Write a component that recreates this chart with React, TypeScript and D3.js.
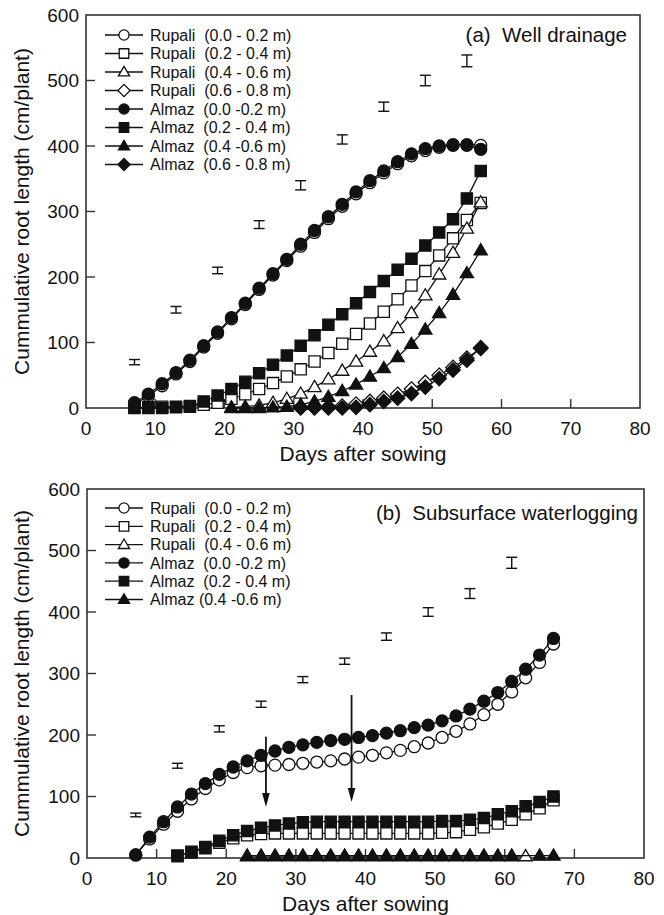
import React from 'react';
import * as d3 from 'd3';

// ---------- Panel (a): Well drainage ----------
const DAYS_A = [7, 9, 11, 13, 15, 17, 19, 21, 23, 25, 27, 29, 31, 33, 35, 37, 39, 41, 43, 45, 47, 49, 51, 53, 55, 57];
const DAYS_A_TRI = [21, 23, 25, 27, 29, 31, 33, 35, 37, 39, 41, 43, 45, 47, 49, 51, 53, 55, 57];
const DAYS_A_DIA = [31, 33, 35, 37, 39, 41, 43, 45, 47, 49, 51, 53, 55, 57];

const A_RUPALI_00_02 = [6, 18, 34, 52, 71, 93, 114, 136, 158, 181, 203, 225, 247, 268, 289, 308, 327, 344, 359, 373, 385, 393, 398, 401, 402, 401];
const A_RUPALI_02_04 = [1, 1, 2, 2, 3, 5, 8, 14, 21, 29, 38, 48, 59, 71, 84, 98, 113, 129, 147, 166, 187, 209, 233, 259, 287, 313];
const A_RUPALI_04_06 = [1, 2, 4, 8, 14, 22, 32, 44, 57, 71, 86, 102, 122, 145, 172, 204, 237, 274, 314];
const A_RUPALI_06_08 = [1, 1, 2, 3, 6, 10, 15, 21, 29, 39, 50, 62, 76, 91];
const A_ALMAZ_00_02 = [8, 21, 37, 54, 73, 95, 116, 138, 160, 183, 205, 227, 250, 271, 292, 311, 330, 347, 362, 376, 388, 396, 400, 402, 401, 395];
const A_ALMAZ_02_04 = [0, 0, 0, 1, 2, 10, 19, 29, 40, 53, 66, 80, 95, 111, 127, 143, 160, 177, 194, 211, 228, 248, 268, 288, 320, 362];
const A_ALMAZ_04_06 = [0, 0, 0, 1, 2, 5, 10, 17, 26, 36, 48, 61, 78, 98, 120, 145, 173, 206, 241];
const A_ALMAZ_06_08 = [0, 0, 0, 0, 1, 5, 10, 15, 22, 32, 45, 58, 73, 92];

const A_ERR_DAYS = [7, 13, 19, 25, 31, 37, 43, 49, 55];
const A_ERR_VALUES = [70, 150, 210, 280, 340, 410, 460, 500, 530];
const A_ERR_SIZE = [4, 5, 5, 6, 7, 7, 7, 8, 9];

// ---------- Panel (b): Subsurface waterlogging ----------
const DAYS_B = [7, 9, 11, 13, 15, 17, 19, 21, 23, 25, 27, 29, 31, 33, 35, 37, 39, 41, 43, 45, 47, 49, 51, 53, 55, 57, 59, 61, 63, 65, 67];
const DAYS_B_SQ = [13, 15, 17, 19, 21, 23, 25, 27, 29, 31, 33, 35, 37, 39, 41, 43, 45, 47, 49, 51, 53, 55, 57, 59, 61, 63, 65, 67];
const DAYS_B_TRI_R = [23, 25, 27, 29, 31, 33, 35, 37, 39, 41, 43, 45, 47, 49, 51, 53, 55, 57, 59, 61, 63];
const DAYS_B_TRI_A = [23, 25, 27, 29, 31, 33, 35, 37, 39, 41, 43, 45, 47, 49, 51, 53, 55, 57, 59, 61, 65, 67];

const B_RUPALI_00_02 = [5, 31, 55, 76, 96, 113, 127, 139, 147, 150, 151, 152, 154, 156, 158, 161, 164, 167, 171, 175, 181, 187, 196, 206, 218, 233, 250, 270, 293, 318, 348];
const B_RUPALI_02_04 = [3, 9, 16, 25, 32, 37, 39, 40, 40, 40, 40, 40, 40, 40, 40, 40, 40, 40, 40, 41, 42, 46, 50, 56, 62, 71, 81, 94];
const B_RUPALI_04_06 = [3, 3, 3, 3, 3, 3, 3, 3, 3, 3, 3, 3, 3, 3, 3, 3, 3, 3, 3, 3, 3];
const B_ALMAZ_00_02 = [5, 34, 59, 83, 104, 121, 136, 148, 158, 167, 174, 180, 184, 188, 191, 193, 196, 199, 203, 207, 212, 216, 223, 231, 242, 255, 269, 287, 307, 330, 357];
const B_ALMAZ_02_04 = [4, 10, 18, 28, 37, 44, 49, 53, 56, 58, 59, 59, 59, 59, 59, 59, 59, 59, 59, 60, 60, 62, 65, 71, 76, 84, 91, 100];
const B_ALMAZ_04_06 = [4, 4, 4, 4, 4, 4, 4, 4, 4, 4, 4, 4, 4, 4, 4, 4, 4, 4, 4, 4, 4, 4];

const B_ERR_DAYS = [7, 13, 19, 25, 31, 37, 43, 49, 55, 61];
const B_ERR_VALUES = [70, 150, 210, 250, 290, 320, 360, 400, 430, 480];
const B_ERR_SIZE = [3, 4, 5, 5, 5, 5, 6, 7, 8, 9];

// arrows: [day, from value, to value]
const B_ARROW_DAYS = [25.7, 38];
const B_ARROW_FROM = [197, 265];
const B_ARROW_TO = [83, 91];

const X_TICKS = [0, 10, 20, 30, 40, 50, 60, 70, 80];
const Y_TICKS = [0, 100, 200, 300, 400, 500, 600];

const LEGEND_A = [
  'Rupali  (0.0 - 0.2 m)',
  'Rupali  (0.2 - 0.4 m)',
  'Rupali  (0.4 - 0.6 m)',
  'Rupali  (0.6 - 0.8 m)',
  'Almaz  (0.0 -0.2 m)',
  'Almaz  (0.2 - 0.4 m)',
  'Almaz  (0.4 -0.6 m)',
  'Almaz  (0.6 - 0.8 m)',
];
const LEGEND_B = [
  'Rupali  (0.0 - 0.2 m)',
  'Rupali  (0.2 - 0.4 m)',
  'Rupali  (0.4 - 0.6 m)',
  'Almaz  (0.0 -0.2 m)',
  'Almaz  (0.2 - 0.4 m)',
  'Almaz (0.4 -0.6 m)',
];

type Shape = 'circle' | 'square' | 'triangle' | 'diamond';
interface Series { days: number[]; values: number[]; shape: Shape; filled: boolean; }

const SERIES_A: Series[] = [
  { days: DAYS_A, values: A_RUPALI_00_02, shape: 'circle', filled: false },
  { days: DAYS_A, values: A_RUPALI_02_04, shape: 'square', filled: false },
  { days: DAYS_A_TRI, values: A_RUPALI_04_06, shape: 'triangle', filled: false },
  { days: DAYS_A_DIA, values: A_RUPALI_06_08, shape: 'diamond', filled: false },
  { days: DAYS_A, values: A_ALMAZ_00_02, shape: 'circle', filled: true },
  { days: DAYS_A, values: A_ALMAZ_02_04, shape: 'square', filled: true },
  { days: DAYS_A_TRI, values: A_ALMAZ_04_06, shape: 'triangle', filled: true },
  { days: DAYS_A_DIA, values: A_ALMAZ_06_08, shape: 'diamond', filled: true },
];
const SERIES_B: Series[] = [
  { days: DAYS_B, values: B_RUPALI_00_02, shape: 'circle', filled: false },
  { days: DAYS_B_SQ, values: B_RUPALI_02_04, shape: 'square', filled: false },
  { days: DAYS_B_TRI_R, values: B_RUPALI_04_06, shape: 'triangle', filled: false },
  { days: DAYS_B, values: B_ALMAZ_00_02, shape: 'circle', filled: true },
  { days: DAYS_B_SQ, values: B_ALMAZ_02_04, shape: 'square', filled: true },
  { days: DAYS_B_TRI_A, values: B_ALMAZ_04_06, shape: 'triangle', filled: true },
];

const FONT = 'Arial, "Liberation Sans", Helvetica, sans-serif';
const INK = '#111';

function markerPath(shape: Shape, k = 1): string {
  switch (shape) {
    case 'circle': {
      const r = 6 * k;
      return `M${-r},0A${r},${r} 0 1,0 ${r},0A${r},${r} 0 1,0 ${-r},0Z`;
    }
    case 'square': {
      const h = 5.6 * k;
      return `M${-h},${-h}H${h}V${h}H${-h}Z`;
    }
    case 'triangle': {
      const w = 6.6 * k;
      return `M0,${-6.6 * k}L${w},${4.6 * k}L${-w},${4.6 * k}Z`;
    }
    case 'diamond': {
      const d = 7.2 * k;
      return `M0,${-d}L${d},0L0,${d}L${-d},0Z`;
    }
  }
}

interface PanelProps {
  x0: number; x1: number; yTop: number; yBot: number;
  series: Series[]; legend: string[]; legendY: number; legendStep: number;
  label: string; labelX: number; labelY: number;
  errDays: number[]; errValues: number[]; errSize: number[];
  arrows?: { day: number; from: number; to: number }[];
}

function Panel(p: PanelProps) {
  const x = d3.scaleLinear().domain([0, 80]).range([p.x0, p.x1]);
  const y = d3.scaleLinear().domain([0, 600]).range([p.yBot, p.yTop]);
  const line = d3.line<[number, number]>().x(d => x(d[0])).y(d => y(d[1]));
  const tickLen = 9;
  const midX = (p.x0 + p.x1) / 2;
  const midY = (p.yTop + p.yBot) / 2;

  return (
    <g>
      <rect x={p.x0} y={p.yTop} width={p.x1 - p.x0} height={p.yBot - p.yTop} fill="none" stroke="#333" strokeWidth={1.6} />
      {X_TICKS.map(t => (
        <g key={'xt' + t}>
          {t > 0 && t < 80 && <line x1={x(t)} x2={x(t)} y1={p.yBot} y2={p.yBot - tickLen} stroke="#333" strokeWidth={1.4} />}
          <text x={x(t)} y={p.yBot + 27} textAnchor="middle" fontSize={19} fontFamily={FONT} fill={INK}>{t}</text>
        </g>
      ))}
      {Y_TICKS.map(t => (
        <g key={'yt' + t}>
          {t > 0 && t < 600 && <line x1={p.x0} x2={p.x0 + tickLen} y1={y(t)} y2={y(t)} stroke="#333" strokeWidth={1.4} />}
          <text x={p.x0 - 7} y={y(t) + 6.8} textAnchor="end" fontSize={19} fontFamily={FONT} fill={INK}>{t}</text>
        </g>
      ))}
      <text x={midX} y={p.yBot + 53} textAnchor="middle" fontSize={21} fontFamily={FONT} fill={INK}>Days after sowing</text>
      <text transform={`translate(29,${midY}) rotate(-90)`} textAnchor="middle" fontSize={21} fontFamily={FONT} fill={INK}>Cummulative root length (cm/plant)</text>
      <text x={p.labelX} y={p.labelY} textAnchor="end" fontSize={20.5} fontFamily={FONT} fill={INK} style={{ whiteSpace: 'pre' }}>{p.label}</text>
      {p.errDays.map((d, i) => {
        const cx = x(d);
        const ya = y(p.errValues[i] + p.errSize[i]);
        const yb = y(p.errValues[i] - p.errSize[i]);
        return (
          <g key={'eb' + i} stroke={INK} strokeWidth={1.4}>
            <line x1={cx} x2={cx} y1={ya} y2={yb} />
            <line x1={cx - 5.5} x2={cx + 5.5} y1={ya} y2={ya} />
            <line x1={cx - 5.5} x2={cx + 5.5} y1={yb} y2={yb} />
          </g>
        );
      })}
      {p.series.map((s, si) => {
        const pts: [number, number][] = s.days.map((d, i) => [d, s.values[i]]);
        return (
          <g key={'s' + si}>
            <path d={line(pts) || ''} fill="none" stroke={INK} strokeWidth={1.3} />
            {pts.map((pt, i) => (
              <path key={i} d={markerPath(s.shape)} transform={`translate(${x(pt[0])},${y(pt[1])})`}
                fill={s.filled ? INK : '#fff'} stroke={INK} strokeWidth={1.3} />
            ))}
          </g>
        );
      })}
      {(p.arrows || []).map((a, i) => {
        const ax = x(a.day);
        const y0 = y(a.from);
        const y1 = y(a.to);
        return (
          <g key={'ar' + i}>
            <line x1={ax} x2={ax} y1={y0} y2={y1 - 10} stroke={INK} strokeWidth={1.8} />
            <path d={`M${ax - 3.8},${y1 - 14}L${ax + 3.8},${y1 - 14}L${ax},${y1}Z`} fill={INK} />
          </g>
        );
      })}
      {p.legend.map((lab, i) => {
        const s = p.series[i];
        const ly = p.legendY + i * p.legendStep;
        return (
          <g key={'lg' + i}>
            <line x1={105} x2={143} y1={ly} y2={ly} stroke={INK} strokeWidth={1.3} />
            <path d={markerPath(s.shape, 0.85)} transform={`translate(124,${ly})`} fill={s.filled ? INK : '#fff'} stroke={INK} strokeWidth={1.3} />
            <text x={150} y={ly + 5.6} fontSize={16} fontFamily={FONT} fill={INK} style={{ whiteSpace: 'pre' }}>{lab}</text>
          </g>
        );
      })}
    </g>
  );
}

export default function App() {
  const arrowsB = B_ARROW_DAYS.map((d, i) => ({ day: d, from: B_ARROW_FROM[i], to: B_ARROW_TO[i] }));
  return (
    <svg width={664} height={915} viewBox="0 0 664 915" style={{ position: 'absolute', left: 0, top: 0, background: '#fff' }}>
      <rect width={664} height={915} fill="#fff" />
      <Panel x0={86} x1={640} yTop={15} yBot={408} series={SERIES_A} legend={LEGEND_A} legendY={35} legendStep={18.5}
        label="(a)  Well drainage" labelX={627} labelY={42}
        errDays={A_ERR_DAYS} errValues={A_ERR_VALUES} errSize={A_ERR_SIZE} />
      <Panel x0={87} x1={644} yTop={489} yBot={858} series={SERIES_B} legend={LEGEND_B} legendY={508} legendStep={18.3}
        label="(b)  Subsurface waterlogging" labelX={638} labelY={520}
        errDays={B_ERR_DAYS} errValues={B_ERR_VALUES} errSize={B_ERR_SIZE} arrows={arrowsB} />
    </svg>
  );
}
